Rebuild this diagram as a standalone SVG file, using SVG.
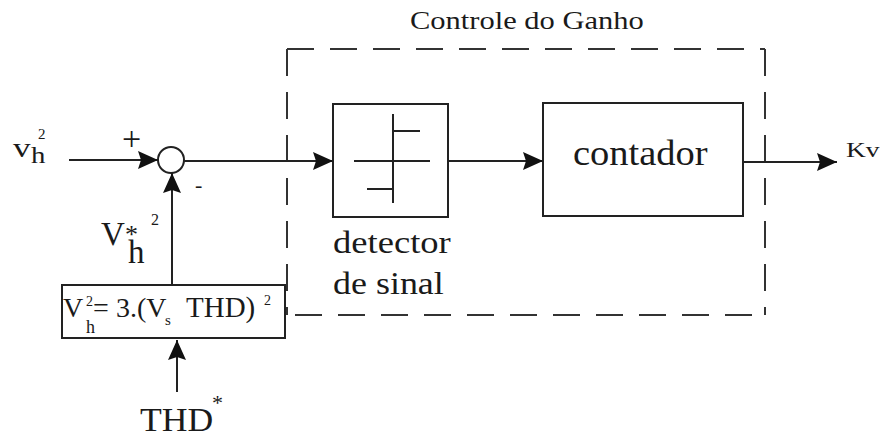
<svg xmlns="http://www.w3.org/2000/svg" width="887" height="437" viewBox="0 0 887 437">
<style>
.t{font-family:"Liberation Serif","Times New Roman","DejaVu Serif",serif;fill:#1a1a1a}
.box{fill:none;stroke:#222;stroke-width:2}
.ln{fill:none;stroke:#222;stroke-width:2}
.dash{fill:none;stroke:#333;stroke-width:2;stroke-dasharray:27 16}
</style>
<defs>
<marker id="ah" markerUnits="userSpaceOnUse" markerWidth="20" markerHeight="18" refX="20" refY="9" orient="auto">
<path d="M0,0 L20,9 L0,18 L3,9 z" fill="#111"/>
</marker>
</defs>
<rect width="887" height="437" fill="#fff"/>

<g id="gain-control">
<line class="dash" x1="287" y1="49" x2="765" y2="49"/>
<line class="dash" x1="765" y1="49" x2="765" y2="315"/>
<line class="dash" x1="287" y1="315" x2="765" y2="315" style="stroke-dashoffset:-8"/>
<line class="dash" x1="287" y1="49" x2="287" y2="315"/>
<text class="t" transform="translate(410,29) scale(1.22,1)" font-size="25">Controle do Ganho</text>
</g>

<g id="input-vh2">
<text class="t" transform="translate(13,157) scale(1.3,1)" font-size="27">v</text>
<text class="t" transform="translate(31,163) scale(1.2,1)" font-size="24">h</text>
<text class="t" x="38" y="139" font-size="15">2</text>
</g>

<g id="sum">
<circle cx="171" cy="160" r="13" fill="#fff" stroke="#222" stroke-width="2"/>
<text class="t" x="122" y="150" font-size="34">+</text>
<text class="t" x="195" y="192" font-size="22">-</text>
</g>

<g id="ref-label">
<text class="t" x="101" y="245" font-size="33">V</text>
<text class="t" x="125" y="243" font-size="26">*</text>
<text class="t" x="151" y="225" font-size="16">2</text>
<text class="t" x="128" y="263" font-size="33">h</text>
</g>

<g id="formula">
<rect class="box" x="62" y="285" width="223" height="53"/>
<text class="t" x="63" y="317" font-size="28">V</text>
<text class="t" x="86" y="306" font-size="14">2</text>
<text class="t" x="86" y="333" font-size="18">h</text>
<text class="t" x="93" y="317" font-size="28">=</text>
<text class="t" x="116" y="317" font-size="28">3.(V</text>
<text class="t" x="165" y="325" font-size="15">s</text>
<text class="t" x="186" y="317" font-size="29">THD)</text>
<text class="t" x="264" y="305" font-size="14">2</text>
</g>

<g id="thd">
<text class="t" transform="translate(140,431) scale(1.08,1)" font-size="33">THD</text>
<text class="t" x="212" y="410" font-size="22">*</text>
</g>

<g id="detector">
<rect class="box" x="333" y="104" width="115" height="113"/>
<line class="ln" x1="393" y1="114" x2="393" y2="203"/>
<line class="ln" x1="354" y1="161" x2="430" y2="161"/>
<line class="ln" x1="393" y1="131" x2="420" y2="131"/>
<line class="ln" x1="367" y1="189" x2="393" y2="189"/>
<text class="t" transform="translate(333,253) scale(1.18,1)" font-size="31">detector</text>
<text class="t" transform="translate(333,294) scale(1.16,1)" font-size="31">de sinal</text>
</g>

<g id="contador">
<rect class="box" x="543" y="103" width="200" height="113"/>
<text class="t" transform="translate(573,165) scale(1.1,1)" font-size="35">contador</text>
</g>

<g id="output">
<text class="t" transform="translate(846,157) scale(1.25,1)" font-size="22">Kv</text>
</g>

<g id="connectors">
<line class="ln" x1="69" y1="160" x2="158" y2="160" marker-end="url(#ah)"/>
<line class="ln" x1="184" y1="161" x2="333" y2="161" marker-end="url(#ah)"/>
<line class="ln" x1="448" y1="161" x2="543" y2="161" marker-end="url(#ah)"/>
<line class="ln" x1="743" y1="162" x2="837" y2="162" marker-end="url(#ah)"/>
<line class="ln" x1="172" y1="285" x2="172" y2="173" marker-end="url(#ah)"/>
<line class="ln" x1="177" y1="392" x2="177" y2="340" marker-end="url(#ah)"/>
</g>
</svg>
